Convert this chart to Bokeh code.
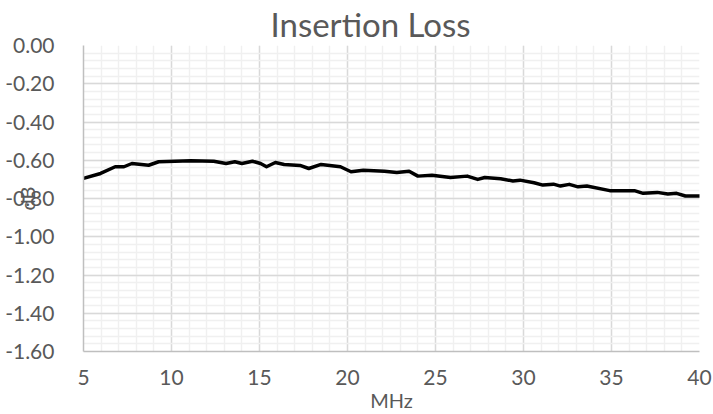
import numpy as np
from bokeh.plotting import figure
from bokeh.models import FixedTicker
from bokeh.embed import file_html
from bokeh.resources import INLINE

# ---- data ----
freq_mhz = [5.0, 5.97, 6.8, 7.3, 7.75, 8.7, 9.27, 11.1, 12.4, 13.1, 13.6, 14.0,
            14.6, 15.06, 15.4, 15.9, 16.4, 17.3, 17.8, 18.5, 19.6, 20.2, 20.9,
            22.1, 22.8, 23.5, 24.0, 24.8, 25.85, 26.8, 27.4, 27.8, 28.7, 29.4,
            29.8, 30.6, 31.1, 31.7, 32.1, 32.6, 33.1, 33.6, 34.9, 36.3, 36.8,
            37.6, 38.2, 38.7, 39.2, 40.0]
loss_db = [-0.695, -0.669, -0.634, -0.634, -0.617, -0.626, -0.608, -0.603,
           -0.605, -0.617, -0.608, -0.617, -0.605, -0.617, -0.634, -0.612,
           -0.622, -0.627, -0.643, -0.622, -0.634, -0.660, -0.652, -0.657,
           -0.664, -0.657, -0.683, -0.678, -0.690, -0.683, -0.700, -0.690,
           -0.697, -0.708, -0.704, -0.718, -0.730, -0.725, -0.735, -0.726,
           -0.739, -0.735, -0.759, -0.759, -0.773, -0.768, -0.777, -0.773,
           -0.787, -0.787]

x_ticks = [5, 10, 15, 20, 25, 30, 35, 40]
x_tick_labels = ["5", "10", "15", "20", "25", "30", "35", "40"]
y_ticks = [0.0, -0.2, -0.4, -0.6, -0.8, -1.0, -1.2, -1.4, -1.6]
y_tick_labels = ["0.00", "-0.20", "-0.40", "-0.60", "-0.80", "-1.00",
                 "-1.20", "-1.40", "-1.60"]

title_text = "Insertion Loss"
x_label = "MHz"
y_label = "dB"

FONT = "Lato"
TXT = "#595959"

p = figure(width=713, height=414, x_range=(5, 40), y_range=(-1.6, 0),
           output_backend="svg", toolbar_location=None,
           min_border_left=83, min_border_right=14,
           min_border_top=43, min_border_bottom=63,
           title=title_text)
p.outline_line_color = None
p.background_fill_color = "white"
p.border_fill_color = "white"

# title
p.title.text_font = FONT
p.title.text_font_size = "33px"
p.title.text_font_style = "normal"
p.title.text_color = TXT
p.title.align = "left"
p.title.offset = 187
p.title.standoff = 3

x_minor = [float(v) for v in np.arange(5, 41, 1)]
y_minor = [round(float(v), 2) for v in np.arange(-1.6, 0.001, 0.04)]

p.xaxis.ticker = FixedTicker(ticks=x_ticks, minor_ticks=x_minor)
p.yaxis.ticker = FixedTicker(ticks=y_ticks, minor_ticks=y_minor)
p.xaxis.major_label_overrides = {t: l for t, l in zip(x_ticks, x_tick_labels)}
p.yaxis.major_label_overrides = {t: l for t, l in zip(y_ticks, y_tick_labels)}

for ax in (p.xaxis, p.yaxis):
    ax.axis_line_color = "#bfbfbf"
    ax.axis_line_width = 1.5
    ax.major_tick_line_color = None
    ax.minor_tick_line_color = None
    ax.major_tick_out = 0
    ax.major_tick_in = 0
    ax.minor_tick_out = 0
    ax.minor_tick_in = 0
    ax.major_label_text_font = FONT
    ax.major_label_text_font_size = "21px"
    ax.major_label_text_color = TXT
    ax.axis_label_text_font = FONT
    ax.axis_label_text_font_size = "20px"
    ax.axis_label_text_font_style = "normal"
    ax.axis_label_text_color = TXT

p.xaxis.axis_label = x_label
p.yaxis.axis_label = y_label
p.yaxis.major_label_standoff = 29
p.xaxis.major_label_standoff = 18
p.xaxis.axis_label_standoff = 0
p.yaxis.axis_label_standoff = -37

p.xgrid.grid_line_color = "#d9d9d9"
p.ygrid.grid_line_color = "#d9d9d9"
p.xgrid.grid_line_width = 1.4
p.ygrid.grid_line_width = 1.4
p.xgrid.minor_grid_line_color = "#f0f0f0"
p.ygrid.minor_grid_line_color = "#f0f0f0"
p.xgrid.minor_grid_line_width = 1.4
p.ygrid.minor_grid_line_width = 1.4

p.line(freq_mhz, loss_db, line_color="black", line_width=3.5,
       line_join="round", line_cap="round")

open("out.html", "w").write(file_html(p, INLINE))
